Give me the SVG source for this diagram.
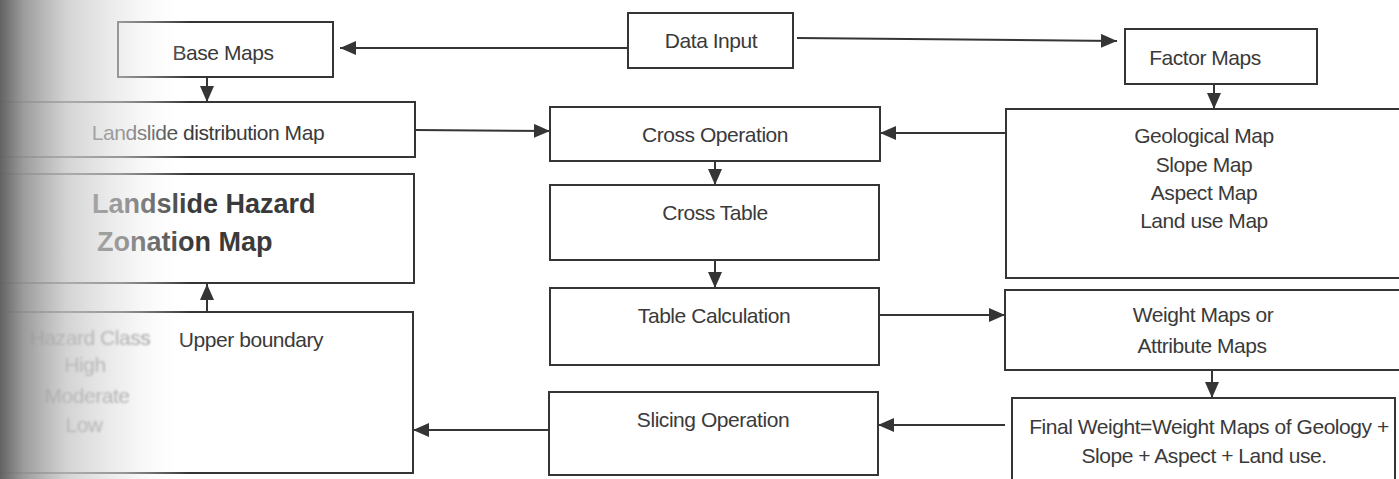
<svg xmlns="http://www.w3.org/2000/svg" width="1399" height="479" viewBox="0 0 1399 479">
  <defs>
    <style>
      .box { fill: #fff; stroke: #353535; stroke-width: 2; }
      .lbl { font-family: "Liberation Sans", Arial, sans-serif; font-size: 21px; letter-spacing: -0.45px; fill: #3a3a3a; text-anchor: middle; }
      .big { font-family: "Liberation Sans", Arial, sans-serif; font-size: 27px; font-weight: bold; fill: #3a3a3a; }
      .soft { filter: url(#soften); fill: #777; }
      .edge { fill: none; stroke: #353535; stroke-width: 2; marker-end: url(#head); }
    </style>
    <marker id="head" markerUnits="userSpaceOnUse" markerWidth="18" markerHeight="16" refX="16" refY="7" orient="auto">
      <path d="M0,0 L16,7 L0,14 Z" fill="#353535"/>
    </marker>
    <filter id="soften" x="-10%" y="-30%" width="120%" height="160%">
      <feGaussianBlur stdDeviation="1.3"/>
    </filter>
    <linearGradient id="shade" x1="0" y1="0" x2="1" y2="0">
      <stop offset="0" stop-color="#626262" stop-opacity="1"/>
      <stop offset="0.12" stop-color="#959595" stop-opacity="0.95"/>
      <stop offset="0.35" stop-color="#c8c8c8" stop-opacity="0.8"/>
      <stop offset="0.65" stop-color="#e4e4e4" stop-opacity="0.55"/>
      <stop offset="1" stop-color="#ffffff" stop-opacity="0"/>
    </linearGradient>
  </defs>

  <rect x="0" y="0" width="1399" height="479" fill="#fff"/>

  <!-- connectors -->
  <g id="connectors">
    <path class="edge" d="M628,48 L340,48"/>
    <path class="edge" d="M797,38 L1117,41"/>
    <path class="edge" d="M207,77 L207,102"/>
    <path class="edge" d="M1214,84 L1214,109"/>
    <path class="edge" d="M415,130 L550,131"/>
    <path class="edge" d="M1006,133 L880,133"/>
    <path class="edge" d="M715,161 L715,185"/>
    <path class="edge" d="M715,260 L715,288"/>
    <path class="edge" d="M879,315 L1005,315"/>
    <path class="edge" d="M1212,370 L1212,398"/>
    <path class="edge" d="M1005,425 L878,425"/>
    <path class="edge" d="M549,430 L413,430"/>
    <path class="edge" d="M207,312 L207,284"/>
  </g>

  <!-- nodes -->
  <g id="data-input">
    <rect class="box" x="628" y="13" width="165" height="55"/>
    <text class="lbl" x="711" y="48">Data Input</text>
  </g>
  <g id="base-maps">
    <rect class="box" x="118" y="22" width="215" height="55"/>
    <text class="lbl" x="223" y="60">Base Maps</text>
  </g>
  <g id="factor-maps">
    <rect class="box" x="1125" y="29" width="192" height="55"/>
    <text class="lbl" x="1205" y="65">Factor Maps</text>
  </g>
  <g id="landslide-distribution">
    <rect class="box" x="-5" y="102" width="420" height="55"/>
    <text class="lbl" x="208" y="140">Landslide distribution Map</text>
  </g>
  <g id="cross-operation">
    <rect class="box" x="550" y="107" width="330" height="54"/>
    <text class="lbl" x="715" y="142">Cross Operation</text>
  </g>
  <g id="factor-list">
    <rect class="box" x="1006" y="109" width="398" height="169"/>
    <text class="lbl" x="1204" y="143">Geological Map</text>
    <text class="lbl" x="1204" y="172">Slope Map</text>
    <text class="lbl" x="1204" y="200">Aspect Map</text>
    <text class="lbl" x="1204" y="228">Land use Map</text>
  </g>
  <g id="hazard-zonation">
    <rect class="box" x="-5" y="174" width="419" height="109"/>
    <text class="big" x="92" y="213">Landslide Hazard</text>
    <text class="big" x="97" y="251">Zonation Map</text>
  </g>
  <g id="cross-table">
    <rect class="box" x="550" y="185" width="329" height="75"/>
    <text class="lbl" x="715" y="220">Cross Table</text>
  </g>
  <g id="table-calculation">
    <rect class="box" x="550" y="288" width="329" height="77"/>
    <text class="lbl" x="714" y="323">Table Calculation</text>
  </g>
  <g id="weight-maps">
    <rect class="box" x="1005" y="290" width="399" height="80"/>
    <text class="lbl" x="1203" y="322">Weight Maps or</text>
    <text class="lbl" x="1202" y="353">Attribute Maps</text>
  </g>
  <g id="hazard-classes">
    <rect class="box" x="-5" y="312" width="418" height="161"/>
    <text class="lbl" x="251" y="347">Upper boundary</text>
    <text class="lbl soft" x="90" y="345">Hazard Class</text>
    <text class="lbl soft" x="85" y="372">High</text>
    <text class="lbl soft" x="87" y="403">Moderate</text>
    <text class="lbl soft" x="84" y="432">Low</text>
  </g>
  <g id="slicing-operation">
    <rect class="box" x="549" y="392" width="329" height="83"/>
    <text class="lbl" x="713" y="427">Slicing Operation</text>
  </g>
  <g id="final-weight">
    <rect class="box" x="1012" y="398" width="383" height="90"/>
    <text class="lbl" x="1209" y="434">Final Weight=Weight Maps of Geology +</text>
    <text class="lbl" x="1204" y="463">Slope + Aspect + Land use.</text>
  </g>

  <!-- faded, shadowed left margin of the page -->
  <rect x="0" y="0" width="190" height="479" fill="url(#shade)"/>
</svg>
